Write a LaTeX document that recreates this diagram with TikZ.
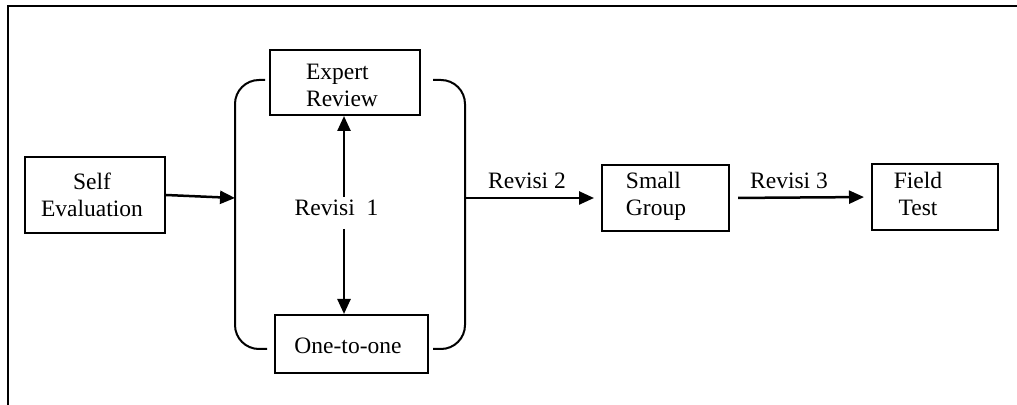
\documentclass[tikz,border=0pt]{standalone}
\usepackage{fontspec}
\setmainfont{Liberation Serif}
\usetikzlibrary{arrows.meta}

\begin{document}
\begin{tikzpicture}[
  x=0.5pt, y=-0.5pt,
  stagebox/.style={draw, line width=1pt, rectangle, inner sep=0pt},
  txt/.style={inner sep=0pt, font=\fontsize{11.75pt}{13.5pt}\selectfont},
  arr/.style={line width=1.25pt, -{Triangle[length=7.5pt,width=6.5pt]}},
  bracket/.style={line width=1pt, rounded corners=12pt},
  frameline/.style={line width=1pt}
]
\useasboundingbox (0,0) rectangle (1017,405);

% open frame around the diagram
\draw[frameline] (1017,6) -- (8,6) -- (8,405);

% stage boxes
\node[stagebox, minimum width=70pt,   minimum height=38pt]   (self)   at (95,195)    {};
\node[stagebox, minimum width=75pt,   minimum height=32.5pt] (expert) at (345,82.5)  {};
\node[stagebox, minimum width=76.5pt, minimum height=29pt]   (one)    at (351.5,344) {};
\node[stagebox, minimum width=63.5pt, minimum height=33pt]   (small)  at (665.5,198) {};
\node[stagebox, minimum width=63pt,   minimum height=33pt]   (field)  at (935,197)   {};

% box texts
\node[txt, align=center] (selft)   at (92,195)  {Self\\Evaluation};
\node[txt, align=left]   (expertt) at (342,85)  {Expert\\Review};
\node[txt]               (onet)    at (348,346) {One-to-one};
\node[txt, align=left]   (smallt)  at (656,196) {Small\\Group};
\node[txt, align=center] (fieldt)  at (918,194) {Field\\Test};

% brackets grouping the first revision loop
\draw[bracket] (265,80) -| (235,349) -- (267,349);
\draw[bracket] (433,80) -| (465,349) -- (433,349);

% revision labels
\node[txt] (rv1) at (336.5,208) {Revisi\ \ 1};
\node[txt] (rv2) at (527,181)   {Revisi 2};
\node[txt] (rv3) at (789,181)   {Revisi 3};

% connector end points
\coordinate (lb)   at (235,198);
\coordinate (rb)   at (465,198);
\coordinate (rtop) at (344,197);
\coordinate (rbot) at (344,229);

% connectors
\draw[arr] (self.east) -- (lb);
\draw[arr] (rtop) -- (rtop |- expert.south);
\draw[arr] (rbot) -- (rbot |- one.north);
\draw[arr, shorten >=3.5pt] (rb) -- (rb -| small.west);
\draw[arr, shorten <=4pt, shorten >=3.5pt] (small.east) -- (field.west);
\end{tikzpicture}
\end{document}
